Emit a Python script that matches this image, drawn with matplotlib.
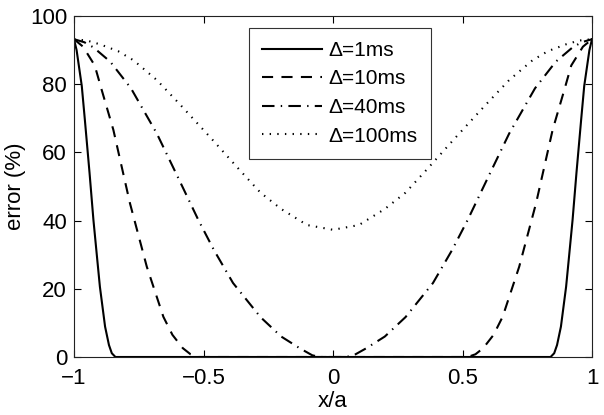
import matplotlib
matplotlib.use("Agg")
import matplotlib.pyplot as plt

plt.rcParams['font.family'] = ['Liberation Sans', 'DejaVu Sans']
plt.rcParams['lines.scale_dashes'] = False

labels = ['Δ=1ms', 'Δ=10ms', 'Δ=40ms', 'Δ=100ms']

x_1ms = [-1, -0.99, -0.97, -0.958, -0.94, -0.925, -0.91, -0.9, -0.88, -0.865, -0.854, -0.84,
         0.84, 0.854, 0.865, 0.88, 0.9, 0.91, 0.925, 0.94, 0.958, 0.97, 0.99, 1]
y_1ms = [93.2, 90, 79.5, 69.5, 54, 40.2, 28.4, 20.6, 8.9, 3.5, 1.1, 0,
         0, 1.1, 3.5, 8.9, 20.6, 28.4, 40.2, 54, 69.5, 79.5, 90, 93.2]

x_10ms = [-1, -0.965, -0.92, -0.893, -0.848, -0.784, -0.719, -0.655, -0.62, -0.58, -0.55, -0.52,
          0.52, 0.55, 0.58, 0.62, 0.655, 0.719, 0.784, 0.848, 0.893, 0.92, 0.965, 1]
y_10ms = [93.2, 91, 85.5, 78.3, 66.6, 45.1, 26.5, 11.8, 6.5, 2.6, 0.8, 0,
          0, 0.8, 2.6, 6.5, 11.8, 26.5, 45.1, 66.6, 78.3, 85.5, 91, 93.2]

x_40ms = [-1, -0.96, -0.925, -0.86, -0.78, -0.68, -0.6, -0.52, -0.46, -0.386, -0.28, -0.2,
          -0.127, -0.08, -0.05, 0.05, 0.08, 0.127, 0.2, 0.28, 0.386, 0.46, 0.52, 0.6, 0.68,
          0.78, 0.86, 0.925, 0.96, 1]
y_40ms = [93.2, 92.3, 90.8, 86.6, 78.8, 65.5, 52.9, 40.2, 31.4, 21.7, 11.7, 6.0,
          2.5, 0.5, 0, 0, 0.5, 2.5, 6.0, 11.7, 21.7, 31.4, 40.2, 52.9, 65.5,
          78.8, 86.6, 90.8, 92.3, 93.2]

x_100ms = [-1, -0.95, -0.9, -0.83, -0.77, -0.68, -0.59, -0.47, -0.36, -0.28, -0.2, -0.1, 0,
           0.1, 0.2, 0.28, 0.36, 0.47, 0.59, 0.68, 0.77, 0.83, 0.9, 0.95, 1]
y_100ms = [93.2, 92.8, 91.7, 89.7, 87, 81.2, 74, 64.1, 54.8, 48.2, 43.4, 38.7, 37.3,
           38.7, 43.4, 48.2, 54.8, 64.1, 74, 81.2, 87, 89.7, 91.7, 92.8, 93.2]

x_ticks = [-1, -0.5, 0, 0.5, 1]
x_tick_labels = ['\u22121', '\u22120.5', '0', '0.5', '1']
y_ticks = [0, 20, 40, 60, 80, 100]

fig = plt.figure(figsize=(6.04, 4.15), dpi=100)
ax = fig.add_axes([74/604, 58/415, 518/604, 341/415])

lw = 1.5
ax.plot(x_1ms, y_1ms, color='black', lw=lw, linestyle='-', label=labels[0])
ax.plot(x_10ms, y_10ms, color='black', lw=lw, linestyle=(0, (8, 6)), label=labels[1])
ax.plot(x_40ms, y_40ms, color='black', lw=lw, linestyle=(0, (9, 4.5, 1, 4.5)), label=labels[2])
ax.plot(x_100ms, y_100ms, color='black', lw=lw, linestyle=(0, (1, 4.5)), label=labels[3])

ax.set_xlim(-1, 1)
ax.set_ylim(0, 100)
ax.set_xticks(x_ticks)
ax.set_xticklabels(x_tick_labels)
ax.set_yticks(y_ticks)
ax.tick_params(direction='in', length=5, width=0.8, top=True, right=True,
               labelsize=16, colors='black', pad=5)
ax.tick_params(axis='x', pad=8)
for s in ax.spines.values():
    s.set_linewidth(0.8)
    s.set_color('#222222')

ax.set_xlabel('x/a', fontsize=16, labelpad=1)
ax.set_ylabel('error (%)', fontsize=16, labelpad=3)

leg = ax.legend(loc='upper left', bbox_to_anchor=(0.338, 0.965), borderaxespad=0,
                fontsize=15, frameon=True, fancybox=False, edgecolor='black',
                handlelength=2.9, handletextpad=0.3, labelspacing=0.46,
                borderpad=0.62)
leg.get_frame().set_linewidth(0.8)

fig.savefig('out.png', dpi=100)
